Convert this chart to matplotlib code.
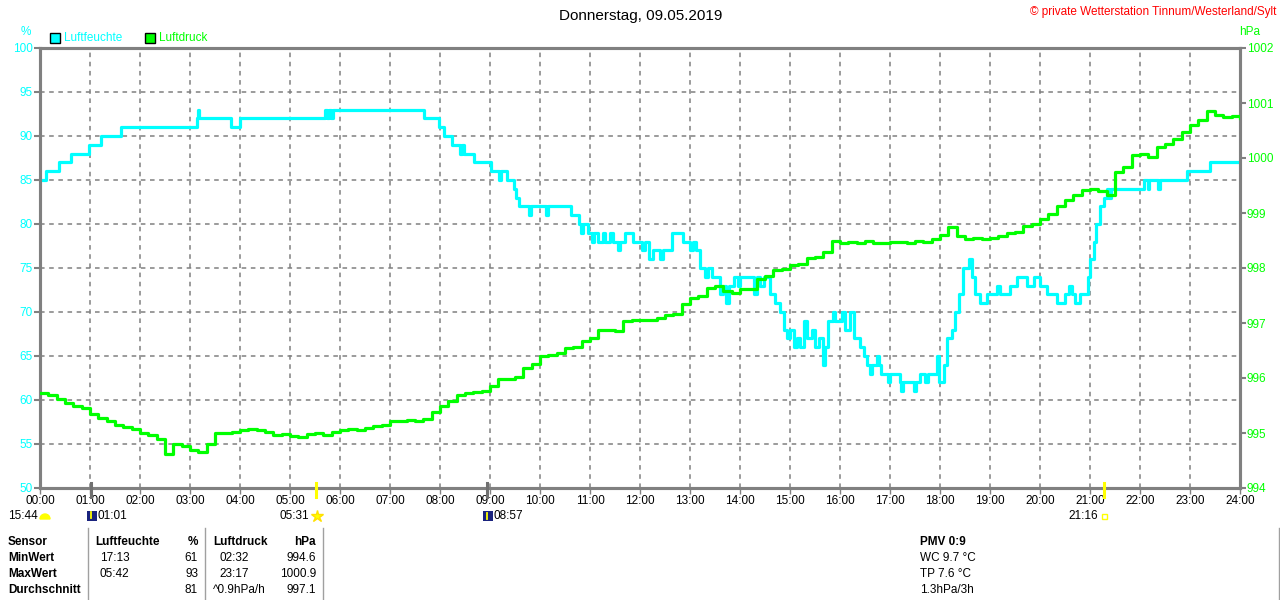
import matplotlib
matplotlib.use('Agg')
import matplotlib.pyplot as plt
from matplotlib.patches import Rectangle, Wedge

plt.rcParams['font.family'] = ['Liberation Sans', 'DejaVu Sans']

# Luftfeuchte (%) als Stufen: Zeitpunkt [h], Wert
hum_t = [0.00, 0.12, 0.37, 0.62, 0.97, 1.22, 1.62, 3.13, 3.15, 3.18, 3.82, 4.00,
         5.70, 5.74, 5.78, 5.82, 5.86, 7.67, 7.97, 8.07, 8.23, 8.40, 8.43, 8.47,
         8.67, 9.03, 9.18, 9.22, 9.33, 9.47, 9.52, 9.58, 9.78, 9.82, 10.12, 10.16,
         10.62, 10.78, 10.82, 10.86, 10.95, 11.03, 11.08, 11.15, 11.25, 11.30, 11.40,
         11.45, 11.55, 11.60, 11.70, 11.85, 12.03, 12.10, 12.18, 12.25, 12.40, 12.45,
         12.63, 12.85, 13.00, 13.05, 13.12, 13.20, 13.30, 13.35, 13.43, 13.60, 13.65,
         13.72, 13.77, 13.87, 13.95, 14.00, 14.27, 14.33, 14.40, 14.47, 14.60, 14.70,
         14.80, 14.87, 14.93, 15.00, 15.07, 15.13, 15.20, 15.27, 15.33, 15.43, 15.50,
         15.58, 15.65, 15.70, 15.75, 15.85, 15.90, 16.03, 16.10, 16.20, 16.27, 16.40,
         16.47, 16.53, 16.60, 16.63, 16.73, 16.77, 16.83, 16.95, 17.00, 17.20, 17.22,
         17.25, 17.48, 17.52, 17.60, 17.70, 17.75, 17.93, 17.97, 18.08, 18.15, 18.23,
         18.30, 18.37, 18.45, 18.57, 18.63, 18.70, 18.80, 18.93, 19.15, 19.20, 19.40,
         19.53, 19.73, 19.87, 20.00, 20.13, 20.33, 20.50, 20.57, 20.63, 20.70, 20.80,
         20.95, 21.00, 21.07, 21.12, 21.20, 21.27, 21.33, 21.37, 21.42, 22.07, 22.15,
         22.18, 22.35, 22.40, 22.93, 23.40, 24.00]
hum_v = [85, 86, 87, 88, 89, 90, 91, 92, 93, 92, 91, 92,
         93, 92, 93, 92, 93, 92, 91, 90, 89, 88, 89, 88,
         87, 86, 85, 86, 85, 84, 83, 82, 81, 82, 81, 82,
         81, 80, 79, 80, 79, 78, 79, 78, 79, 78, 79,
         78, 77, 78, 79, 78, 77, 78, 76, 77, 76, 77,
         79, 78, 77, 78, 77, 75, 74, 75, 74, 72, 73,
         71, 73, 74, 73, 74, 72, 74, 73, 74, 72, 71,
         70, 68, 67, 68, 66, 67, 66, 69, 67, 68, 66,
         67, 64, 66, 69, 70, 69, 70, 68, 70, 67, 66,
         65, 64, 63, 64, 65, 64, 63, 62, 63, 62, 61,
         62, 61, 62, 63, 62, 63, 65, 62, 64, 67, 68,
         70, 72, 75, 76, 74, 72, 71, 72, 73, 72, 73,
         74, 73, 74, 73, 72, 71, 72, 73, 72, 71, 72,
         74, 76, 78, 80, 82, 83, 84, 83, 84, 85, 84,
         85, 84, 85, 86, 87, 87]

# Luftdruck (hPa), alle 10 Minuten
press_v = [995.72, 995.70, 995.62, 995.55, 995.49, 995.45,
           995.35, 995.28, 995.22, 995.15, 995.11, 995.08,
           995.00, 994.97, 994.90, 994.62, 994.80, 994.76,
           994.70, 994.66, 994.80, 995.00, 995.00, 995.02,
           995.05, 995.07, 995.05, 995.02, 994.97, 994.98,
           994.95, 994.93, 994.98, 995.00, 994.96, 995.02,
           995.05, 995.08, 995.06, 995.10, 995.12, 995.15,
           995.22, 995.22, 995.24, 995.22, 995.26, 995.38,
           995.50, 995.58, 995.70, 995.72, 995.74, 995.76,
           995.85, 995.98, 995.99, 996.02, 996.18, 996.25,
           996.40, 996.42, 996.45, 996.55, 996.57, 996.68,
           996.72, 996.87, 996.88, 996.86, 997.03, 997.06,
           997.05, 997.05, 997.10, 997.15, 997.17, 997.34,
           997.45, 997.50, 997.64, 997.68, 997.58, 997.55,
           997.62, 997.62, 997.80, 997.85, 997.96, 997.98,
           998.05, 998.07, 998.18, 998.20, 998.30, 998.50,
           998.45, 998.48, 998.45, 998.50, 998.46, 998.45,
           998.47, 998.48, 998.46, 998.50, 998.48, 998.52,
           998.60, 998.75, 998.58, 998.52, 998.55, 998.53,
           998.55, 998.58, 998.64, 998.66, 998.77, 998.80,
           998.90, 998.98, 999.12, 999.24, 999.32, 999.42,
           999.43, 999.40, 999.33, 999.75, 999.84, 1000.05,
           1000.08, 1000.02, 1000.20, 1000.25, 1000.35, 1000.48,
           1000.60, 1000.70, 1000.86, 1000.78, 1000.75, 1000.76,
           1000.72]
press_t = [i / 6 for i in range(len(press_v))]

hour_labels = ['%02d:00' % h for h in range(25)]

CYAN = '#00FFFF'
GREEN = '#00FF00'
YELLOW = '#FFFF00'
GRAY = '#808080'
NAVY = '#1A237E'
W, H = 1280, 600
FS = 8.5


def fx(px):
    return px / W


def fy(py):
    return 1 - py / H


fig = plt.figure(figsize=(12.8, 6), dpi=100)
ax = fig.add_axes([fx(40), fy(488), fx(1200), 440 / H])
ax2 = ax.twinx()

ax.plot(hum_t, hum_v, color=CYAN, lw=2.3, drawstyle='steps-post', zorder=3)
ax2.plot(press_t, press_v, color=GREEN, lw=2.3, drawstyle='steps-post', zorder=3)

ax.set_xlim(0, 24)
ax.set_ylim(50, 100)
ax2.set_ylim(994, 1002)
ax.set_xticks(range(25))
ax.set_xticklabels(hour_labels)
ax.set_yticks(range(50, 101, 5))
ax2.set_yticks(range(994, 1003))

ax.grid(True, color=GRAY, ls=(0, (3, 3)), lw=1.1)
for sp in list(ax.spines.values()) + list(ax2.spines.values()):
    sp.set_color(GRAY)
    sp.set_linewidth(2.2)

ax.tick_params(axis='x', length=4, color=GRAY, width=1, labelsize=FS, pad=1)
ax.tick_params(axis='y', length=4, color=GRAY, width=1.5, labelsize=FS,
               labelcolor=CYAN, pad=1)
ax2.tick_params(axis='y', length=4, color=GRAY, width=1.5, labelsize=FS,
                labelcolor=GREEN, pad=1)

# Titel und Legende
fig.text(fx(641), fy(16), 'Donnerstag, 09.05.2019', fontsize=11,
         ha='center', va='center')
fig.text(fx(1276), fy(12), '© private Wetterstation Tinnum/Westerland/Sylt',
         fontsize=FS, color='red', ha='right', va='center')
fig.text(fx(26), fy(32), '%', fontsize=FS, color=CYAN, ha='center', va='center')
fig.text(fx(1250), fy(32), 'hPa', fontsize=FS, color=GREEN, ha='center', va='center')
for x0, col, name in [(50, CYAN, 'Luftfeuchte'), (145, GREEN, 'Luftdruck')]:
    fig.patches.append(Rectangle((fx(x0), fy(43)), fx(10), 10 / H, facecolor=col,
                                 edgecolor='black', lw=1, transform=fig.transFigure))
    fig.text(fx(x0 + 14), fy(38), name, fontsize=FS, color=col, va='center')

# Sonne / Mond Markierungen
for hr, col in [(1.02, '#707070'), (5.52, YELLOW), (8.95, '#707070'), (21.27, YELLOW)]:
    xp = 40 + hr * 50
    fig.add_artist(plt.Line2D([fx(xp), fx(xp)], [fy(483), fy(497)], color=col, lw=2.2))

ROW2 = 516
fig.text(fx(38), fy(ROW2), '15:44', fontsize=FS, ha='right', va='center')
# halbe Scheibe (in Zoll, damit sie rund bleibt)
fig.add_artist(Wedge((45 / 100, (H - ROW2 - 3) / 100), 0.05, 0, 180, color=YELLOW,
                     transform=fig.dpi_scale_trans))
# Mond-Icons: dunkles Feld mit gelbem Pfeil
for x0, yA, yB in [(87, ROW2 - 4, ROW2 + 2), (483, ROW2 - 3, ROW2 + 3)]:
    fig.patches.append(Rectangle((fx(x0), fy(ROW2 + 5)), fx(10), 10 / H, facecolor=NAVY,
                                 edgecolor='none', transform=fig.transFigure))
    fig.add_artist(plt.Line2D([fx(x0 + 4), fx(x0 + 4)], [fy(yA), fy(yB)],
                              color=YELLOW, lw=1.3))
fig.text(fx(98), fy(ROW2), '01:01', fontsize=FS, va='center')
fig.text(fx(309), fy(ROW2), '05:31', fontsize=FS, ha='right', va='center')
fig.add_artist(plt.Line2D([fx(317)], [fy(ROW2)], marker='*', ms=9, color=YELLOW,
                          markeredgecolor='#FFE000'))
fig.text(fx(494), fy(ROW2), '08:57', fontsize=FS, va='center')
fig.text(fx(1098), fy(ROW2), '21:16', fontsize=FS, ha='right', va='center')
fig.patches.append(Rectangle((fx(1102), fy(ROW2 + 3)), fx(5), 5 / H, facecolor='none',
                             edgecolor=YELLOW, lw=1, transform=fig.transFigure))

# Tabelle unten
for xp in [88, 205, 323, 1279]:
    fig.add_artist(plt.Line2D([fx(xp), fx(xp)], [fy(528), fy(600)], color='#A0A0A0', lw=1))

rows_y = [542, 558, 574, 590]
row_names = ['Sensor', 'MinWert', 'MaxWert', 'Durchschnitt']
hum_col = [('Luftfeuchte', '%'), ('17:13', '61'), ('05:42', '93'), ('', '81')]
press_col = [('Luftdruck', 'hPa'), ('02:32', '994.6'), ('23:17', '1000.9'),
             ('^0.9hPa/h', '997.1')]
extra = ['PMV 0:9', 'WC 9.7 °C', 'TP 7.6 °C', '1.3hPa/3h']

for i, yp in enumerate(rows_y):
    bold = 'bold' if i == 0 else 'normal'
    fig.text(fx(8), fy(yp), row_names[i], fontsize=FS, weight='bold', va='center')
    fig.text(fx(95 if i == 0 else 100), fy(yp), hum_col[i][0], fontsize=FS,
             weight=bold, va='center')
    fig.text(fx(198), fy(yp), hum_col[i][1], fontsize=FS, weight=bold,
             ha='right', va='center')
    fig.text(fx(213 if i in (0, 3) else 219), fy(yp), press_col[i][0], fontsize=FS,
             weight=bold, va='center')
    fig.text(fx(316), fy(yp), press_col[i][1], fontsize=FS, weight=bold,
             ha='right', va='center')
    fig.text(fx(920), fy(yp), extra[i], fontsize=FS, weight=bold, va='center')

fig.savefig('out.png', dpi=100)
